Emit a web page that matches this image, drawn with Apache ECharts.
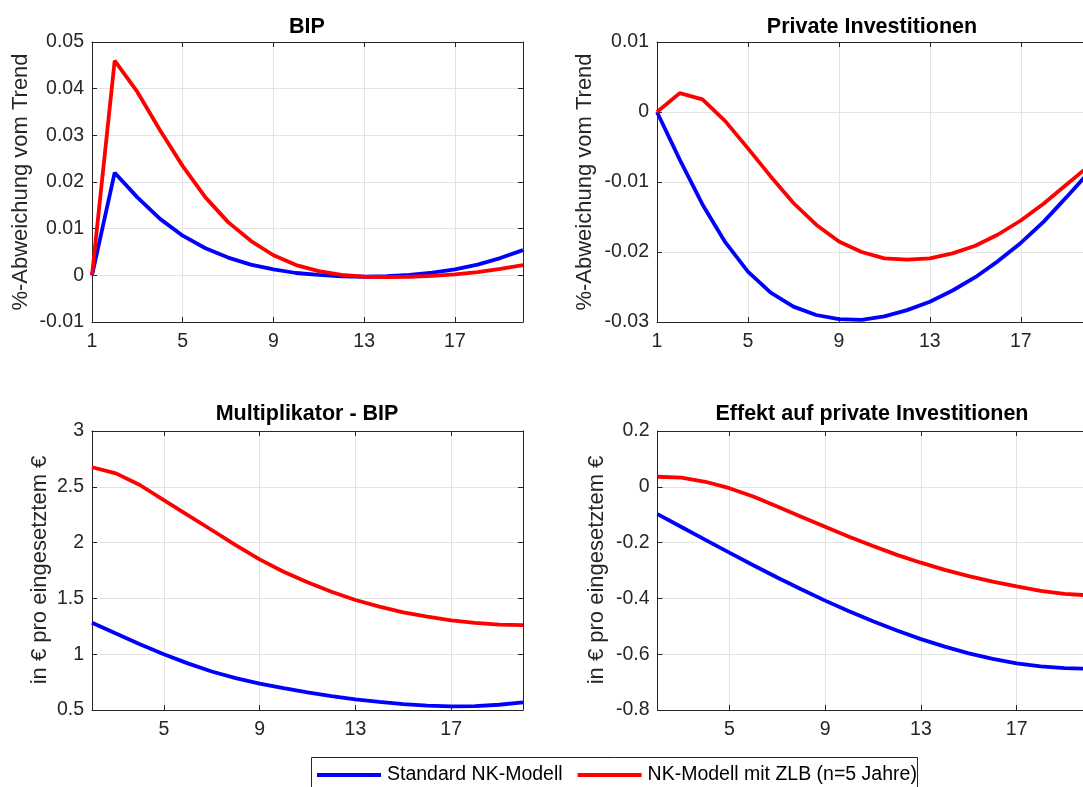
<!DOCTYPE html>
<html><head><meta charset="utf-8">
<script src="https://cdn.jsdelivr.net/npm/echarts@6/dist/echarts.min.js"></script>
<style>html,body{margin:0;padding:0;background:#fff}#c{width:1083px;height:787px}</style>
</head><body><div id="c"></div>
<script>
const periodsTop = [1,2,3,4,5,6,7,8,9,10,11,12,13,14,15,16,17,18,19,20];
const periodsBottom = [2,3,4,5,6,7,8,9,10,11,12,13,14,15,16,17,18,19,20];

const bipStandard = [0,0.022,0.0167,0.0121,0.0085,0.0058,0.0038,0.0023,0.0013,0.0005,0.0001,-0.0002,-0.0003,-0.0002,0.0001,0.0006,0.0013,0.0023,0.0037,0.0054];
const bipZLB = [0,0.046,0.0393,0.0311,0.0234,0.0167,0.0114,0.0074,0.0043,0.0022,0.0009,0.0001,-0.0003,-0.0004,-0.0003,-0.0001,0.0002,0.0007,0.0014,0.0022];
const invStandard = [0,-0.0068,-0.0132,-0.0186,-0.0228,-0.0258,-0.0278,-0.029,-0.0296,-0.0297,-0.0292,-0.0283,-0.0271,-0.0255,-0.0236,-0.0213,-0.0187,-0.0157,-0.0122,-0.0086];
const invZLB = [0,0.0027,0.0018,-0.0013,-0.0052,-0.0092,-0.013,-0.0161,-0.0185,-0.02,-0.0209,-0.0211,-0.0209,-0.0202,-0.0191,-0.0175,-0.0155,-0.0131,-0.0104,-0.0077];
const multStandard = [1.282,1.185,1.09,1.0,0.918,0.845,0.785,0.737,0.695,0.657,0.624,0.596,0.572,0.553,0.54,0.533,0.535,0.547,0.568];
const multZLB = [2.675,2.62,2.516,2.38,2.247,2.113,1.978,1.85,1.739,1.644,1.56,1.486,1.426,1.375,1.336,1.304,1.28,1.265,1.26];
const effStandard = [-0.098,-0.144,-0.19,-0.236,-0.281,-0.325,-0.367,-0.408,-0.446,-0.482,-0.515,-0.546,-0.573,-0.597,-0.617,-0.633,-0.644,-0.65,-0.652];
const effZLB = [0.036,0.033,0.018,-0.005,-0.035,-0.071,-0.107,-0.143,-0.179,-0.212,-0.244,-0.272,-0.298,-0.32,-0.34,-0.357,-0.373,-0.384,-0.389];

const xTicksTop = [1,5,9,13,17];
const xTicksBottom = [5,9,13,17];
const titles = ['BIP','Private Investitionen','Multiplikator - BIP','Effekt auf private Investitionen'];
const yNames = ['%-Abweichung vom Trend','%-Abweichung vom Trend','in € pro eingesetztem €','in € pro eingesetztem €'];
const seriesNames = ['Standard NK-Modell','NK-Modell mit ZLB (n=5 Jahre)'];
const yRanges = [[-0.01,0.05,0.01],[-0.03,0.01,0.01],[0.5,3,0.5],[-0.8,0.2,0.2]];
const xRanges = [[1,20],[1,20],[2,20],[2,20]];

const FONT = '"Liberation Sans", Arial, Helvetica, sans-serif';
const AX = '#262626';
const GRIDC = '#e3e3e3';
const BLUE = '#0000ff', RED = '#ff0000';

const grids = [
  {left:92, top:42, width:431, height:280, outerBoundsMode:'none', containLabel:false},
  {left:657, top:42, width:432, height:280, outerBoundsMode:'none', containLabel:false},
  {left:92, top:431, width:431, height:279, outerBoundsMode:'none', containLabel:false},
  {left:657.5, top:431, width:431, height:279, outerBoundsMode:'none', containLabel:false}
];
const xs = [periodsTop, periodsTop, periodsBottom, periodsBottom];
const data = [[bipStandard,bipZLB],[invStandard,invZLB],[multStandard,multZLB],[effStandard,effZLB]];
const xt = [xTicksTop, xTicksTop, xTicksBottom, xTicksBottom];

const fmt = v => String(+(+v).toFixed(4));

const xAxis = [], yAxis = [], series = [], graphic = [];
for (let i = 0; i < 4; i++) {
  const base = {
    type:'value', gridIndex:i, min:xRanges[i][0], max:xRanges[i][1],
    axisLine:{show:true, onZero:false, lineStyle:{color:AX, width:1}},
  };
  xAxis.push(Object.assign({}, base, {
    position:'bottom',
    axisTick:{show:true, inside:true, length:5, customValues:xt[i], lineStyle:{color:AX}},
    axisLabel:{show:true, customValues:xt[i], margin:10, fontSize:19.5, color:AX, fontFamily:FONT},
    splitLine:{show:true, lineStyle:{color:GRIDC, width:1}}
  }));
  xAxis.push(Object.assign({}, base, {
    position:'top',
    axisTick:{show:true, inside:true, length:5, customValues:xt[i], lineStyle:{color:AX}},
    axisLabel:{show:false, customValues:xt[i]},
    splitLine:{show:false}
  }));
  const yb = {
    type:'value', gridIndex:i, min:yRanges[i][0], max:yRanges[i][1], interval:yRanges[i][2],
    axisLine:{show:true, onZero:false, lineStyle:{color:AX, width:1}},
    axisTick:{show:true, inside:true, length:5, lineStyle:{color:AX}}
  };
  yAxis.push(Object.assign({}, yb, {
    position:'left',
    axisLabel:{show:true, margin:8, fontSize:19.5, color:AX, fontFamily:FONT, formatter:fmt},
    splitLine:{show:true, lineStyle:{color:GRIDC, width:1}}
  }));
  yAxis.push(Object.assign({}, yb, {
    position:'right',
    axisLabel:{show:false},
    splitLine:{show:false}
  }));
  for (let s = 0; s < 2; s++) {
    series.push({
      name: seriesNames[s], type:'line', xAxisIndex:2*i, yAxisIndex:2*i,
      data: xs[i].map((x,k) => [x, data[i][s][k]]),
      showSymbol:false, symbol:'none', smooth:false, clip:true, z:3+s,
      lineStyle:{color: s===0?BLUE:RED, width:3.8},
      itemStyle:{color: s===0?BLUE:RED},
      animation:false
    });
  }
}

const titlePos = [[307,27],[872,27],[307,414],[872,414]];
const yNamePos = [[21,182],[585,182],[40,570],[597,570]];
for (let i = 0; i < 4; i++) {
  graphic.push({type:'text', x:titlePos[i][0], y:titlePos[i][1], style:{
    text:titles[i], font:'bold 21.5px ' + FONT, fill:'#000', textAlign:'center', textVerticalAlign:'middle'}});
  graphic.push({type:'text', x:yNamePos[i][0], y:yNamePos[i][1], rotation:Math.PI/2, style:{
    text:yNames[i], font:'22px ' + FONT, fill:AX, textAlign:'center', textVerticalAlign:'middle'}});
}
graphic.push({type:'rect', z:-1, shape:{x:311.5, y:757.5, width:606, height:40},
  style:{fill:'#fff', stroke:AX, lineWidth:1}});

const chart = echarts.init(document.getElementById('c'), null, {renderer:'canvas'});
chart.setOption({
  animation:false,
  backgroundColor:'#fff',
  grid: grids,
  xAxis, yAxis, series, graphic,
  legend:{
    data: seriesNames, left:317, top:765, padding:0, itemGap:15,
    itemWidth:64, itemHeight:4, icon:'rect',
    textStyle:{fontSize:19.5, color:'#000', fontFamily:FONT, lineHeight:20, padding:[0,0,0,1]},
    selectedMode:false
  }
});
</script></body></html>
